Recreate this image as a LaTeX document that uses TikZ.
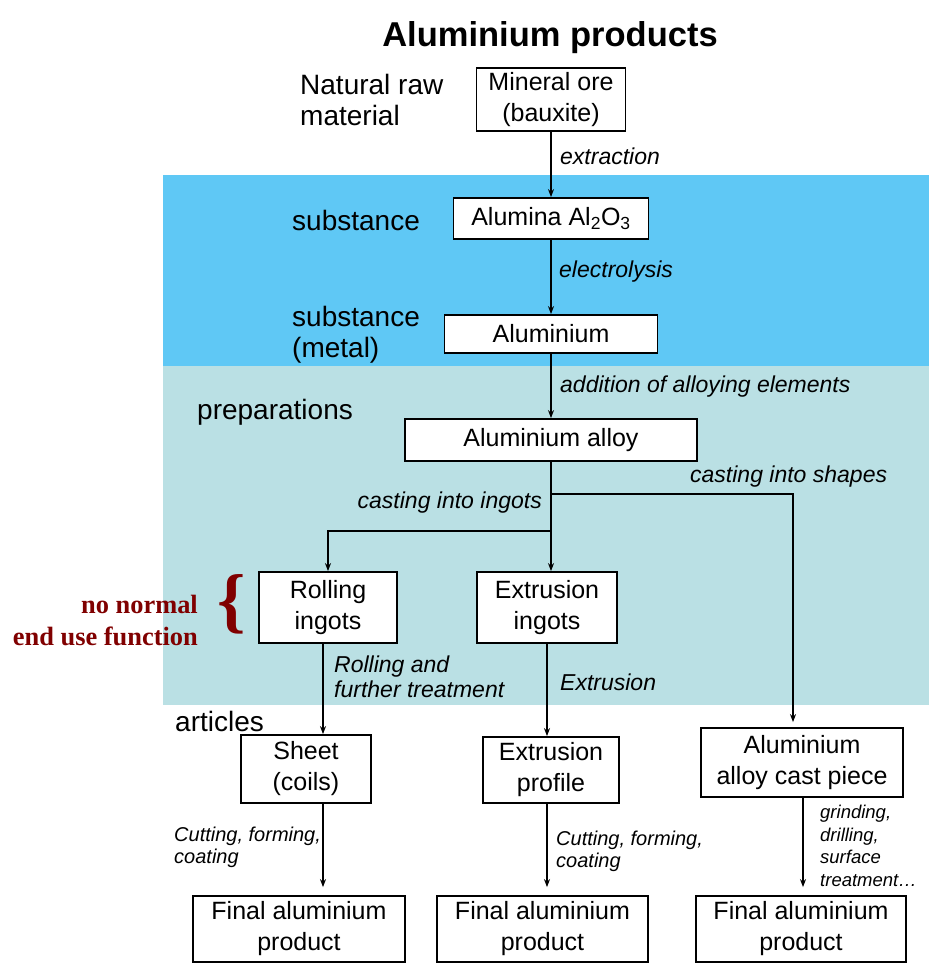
\documentclass[tikz,border=0pt]{standalone}
\usepackage{fontspec}
\setmainfont{Liberation Sans}
\newfontfamily\redserif{Liberation Serif}
\usetikzlibrary{arrows.meta,positioning}
\definecolor{bandblue}{RGB}{95,200,245}
\definecolor{bandteal}{RGB}{186,224,228}
\definecolor{notered}{RGB}{128,0,0}
\tikzset{
  box/.style={draw, line width=1.8pt, fill=white, align=center, inner sep=2pt,
    font=\fontsize{25}{31}\selectfont},
  arr/.style={line width=1.4pt, -{Stealth[length=8pt,width=6pt]}},
  link/.style={line width=1.4pt},
  proc/.style={inner sep=0pt, align=left, font=\fontsize{23}{25}\selectfont\itshape},
  level/.style={inner sep=0pt, align=left, font=\fontsize{28}{31}\selectfont}
}
\begin{document}
\begin{tikzpicture}[x=1pt,y=-1pt]
	\useasboundingbox (0,0) rectangle (929,964);
	% Hintergrund
	\fill[bandblue] (163,175) rectangle (929,366);
	\fill[bandteal] (163,366) rectangle (929,705);
	% Titel
	\node[font=\fontsize{34.5}{40}\selectfont\bfseries] (title) at (550,38) {Aluminium products};
	% Ebenen links
	\node[level, anchor=west] (lraw) at (300,100) {Natural raw\\material};
	\node[level, anchor=west] (lsub) at (292,220) {substance};
	\node[level, anchor=west] (lmetal) at (292,335) {substance\\(metal)};
	\node[level, anchor=west] (lprep) at (197,412) {preparations};
	\node[level, anchor=west] (lart) at (175,721) {articles};
	% Kaesten
	\node[box, minimum width=149pt, minimum height=63pt] (ore) at (551,99.5) {Mineral ore\\(bauxite)};
	\node[box, minimum width=195pt, minimum height=41pt] (alumina) at (551,218.5) {Alumina Al\textsubscript{2}O\textsubscript{3}};
	\node[box, minimum width=213pt, minimum height=38pt] (alu) at (551,334) {Aluminium};
	\node[box, minimum width=292pt, minimum height=42pt] (alloy) at (551,440) {Aluminium alloy};
	\node[box, minimum width=138pt, minimum height=71pt] (rolling) at (328,607.5) {Rolling\\ingots};
	\node[box, minimum width=140pt, minimum height=71pt] (extringots) at (547,607.5) {Extrusion\\ingots};
	\node[box, minimum width=130pt, minimum height=68pt] (sheet) at (306,769) {Sheet\\(coils)};
	\node[box, minimum width=136pt, minimum height=66pt] (profile) at (551,770) {Extrusion\\profile};
	\node[box, minimum width=202pt, minimum height=69pt] (cast) at (802,762.5) {Aluminium\\alloy cast piece};
	\node[box, minimum width=212pt, minimum height=66pt] (final1) at (299,929) {Final aluminium\\product};
	\node[box, minimum width=211pt, minimum height=66pt] (final2) at (542.5,929) {Final aluminium\\product};
	\node[box, minimum width=210pt, minimum height=66pt] (final3) at (801,929) {Final aluminium\\product};
	% Pfeile
	\coordinate (shapesplit) at (551,494);
	\coordinate (ingotsplit) at (551,531);
	\draw[arr] (ore) -- (alumina);
	\draw[arr] (alumina) -- (alu);
	\draw[arr] (alu) -- (alloy);
	\draw[link] (alloy) -- (ingotsplit);
	\draw[arr] (ingotsplit) -| (rolling);
	\draw[arr] (ingotsplit) -- (ingotsplit |- extringots.north);
	\draw[arr, shorten >=5pt] (shapesplit) -| ([xshift=-9pt]cast.north);
	\draw[arr] ([xshift=-5pt]rolling.south) -- ([xshift=-5pt]rolling.south |- sheet.north);
	\draw[arr] (extringots.south) -- (extringots.south |- profile.north);
	\draw[arr, shorten >=8pt] ([xshift=17pt]sheet.south) -- ([xshift=17pt]sheet.south |- final1.north);
	\draw[arr, shorten >=8pt] ([xshift=-4pt]profile.south) -- ([xshift=-4pt]profile.south |- final2.north);
	\draw[arr, shorten >=8pt] ([xshift=1pt]cast.south) -- ([xshift=1pt]cast.south |- final3.north);
	% Beschriftungen
	\node[proc, anchor=west] (textraction) at (560,156) {extraction};
	\node[proc, anchor=west] (telectro) at (559,272) {electrolysis};
	\node[proc, anchor=west] (taddition) at (560,387) {addition of alloying elements};
	\node[proc, anchor=east] (tingots) at (542,503) {casting into ingots};
	\node[proc, anchor=west] (tshapes) at (690,477) {casting into shapes};
	\node[proc, anchor=west] (trolling) at (334,677) {Rolling and\\further treatment};
	\node[proc, anchor=west] (textrusion) at (560,682) {Extrusion};
	\node[proc, anchor=west, font=\fontsize{20}{22}\selectfont\itshape] (tcut1) at (174,847) {Cutting, forming,\\coating};
	\node[proc, anchor=west, font=\fontsize{20}{22}\selectfont\itshape] (tcut2) at (556,851) {Cutting, forming,\\coating};
	\node[proc, anchor=west, font=\fontsize{18.5}{22.5}\selectfont\itshape] (tgrind) at (820,846) {grinding,\\drilling,\\surface\\treatment\dots};
	% Hinweis
	\node[inner sep=0pt, anchor=east, align=right, text=notered, font=\redserif\fontsize{26.4}{32}\selectfont\bfseries] (note) at (198,620) {no normal\\end use function};
	\node[inner sep=0pt, text=notered, font=\redserif\fontsize{72}{72}\selectfont\bfseries] (brace) at (232,604) {\{};
\end{tikzpicture}
\end{document}
